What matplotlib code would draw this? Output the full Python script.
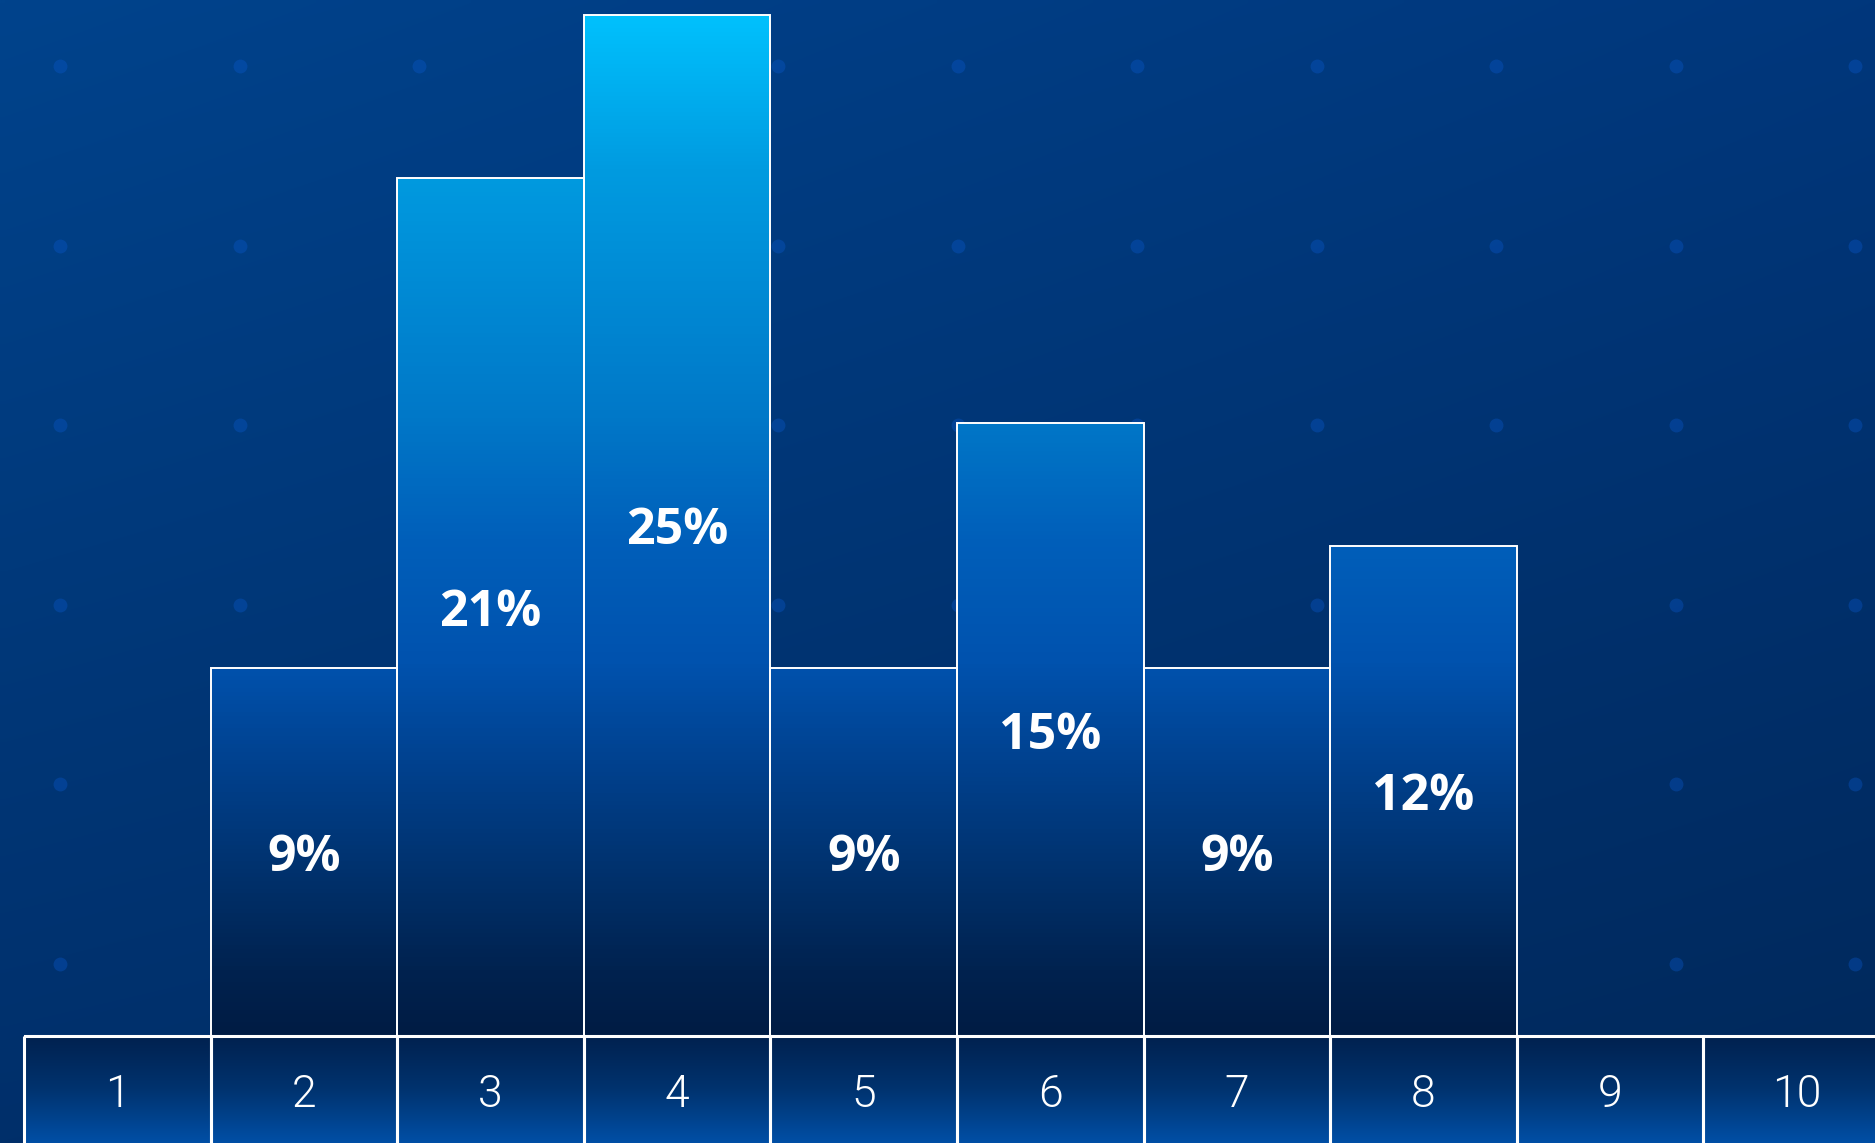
import numpy as np
import matplotlib
matplotlib.use("Agg")
import matplotlib.pyplot as plt
from matplotlib.colors import LinearSegmentedColormap, to_rgb

# bucket labels along the bottom row and the share in each bucket (%)
buckets = ["1", "2", "3", "4", "5", "6", "7", "8", "9", "10"]
shares = [0, 9, 21, 25, 9, 15, 9, 12, 0, 0]
share_labels = ["", "9%", "21%", "25%", "9%", "15%", "9%", "12%", "", ""]

W, H = 1875, 1143
fig = plt.figure(figsize=(W / 100, H / 100), dpi=100)

# ---- background: diagonal navy gradient + dot grid ----
bg = fig.add_axes([0, 0, 1, 1])
bg.set_xlim(0, W)
bg.set_ylim(H, 0)
bg.axis("off")

tl, tr = np.array(to_rgb("#00438c")), np.array(to_rgb("#00377c"))
bl, br = np.array(to_rgb("#002f6a")), np.array(to_rgb("#00285a"))
u = np.linspace(0, 1, 200)[None, :, None]
v = np.linspace(0, 1, 200)[:, None, None]
img = (1 - u) * (1 - v) * tl + u * (1 - v) * tr + (1 - u) * v * bl + u * v * br
bg.imshow(img, extent=(0, W, H, 0), aspect="auto", interpolation="bilinear", zorder=0)

gx, gy = np.meshgrid(60 + 179.5 * np.arange(11), 66 + 179.5 * np.arange(6))
bg.scatter(gx.ravel(), gy.ravel(), s=100, color="#0a5ad0", alpha=0.35, lw=0, zorder=1)

# ---- chart axes ----
ax = fig.add_axes([0, 0, 1, 1])
ax.patch.set_alpha(0)
step = 186.6          # pixels per bucket
per_pct = 40.86       # pixels per percent
x0 = 0.5 - 24 / step
ax.set_xlim(x0, x0 + W / step)
y0 = -107 / per_pct
ax.set_ylim(y0, y0 + H / per_pct)
ax.axis("off")

x = np.arange(1, len(buckets) + 1)

bar_cmap = LinearSegmentedColormap.from_list("bars", [
    (0.00, "#001c44"), (0.06, "#00224f"), (0.14, "#002f68"), (0.26, "#00418e"),
    (0.36, "#0052ae"), (0.48, "#005fba"), (0.60, "#0078c8"), (0.84, "#009be0"),
    (1.00, "#00c4ff")])
cell_cmap = LinearSegmentedColormap.from_list("cells", ["#004fa6", "#00336f", "#00214f"])

ytop = ax.get_ylim()[1]
grad = np.linspace(0, 1, 256)[:, None]

bars = ax.bar(x, shares, width=1.0, color="none", edgecolor="white", linewidth=1.4, zorder=4)
for b, val in zip(bars, shares):
    if val <= 0:
        continue
    im = ax.imshow(grad, cmap=bar_cmap, origin="lower", aspect="auto",
                   extent=(b.get_x(), b.get_x() + b.get_width(), 0, 25.3),
                   interpolation="bilinear", zorder=3)
    im.set_clip_path(b)

cells = ax.bar(x, y0 - 1, width=1.0, bottom=0, color="none", edgecolor="white",
               linewidth=2.2, zorder=6)
for c in cells:
    im = ax.imshow(grad, cmap=cell_cmap, origin="lower", aspect="auto",
                   extent=(c.get_x(), c.get_x() + c.get_width(), y0, 0),
                   interpolation="bilinear", zorder=5)
    im.set_clip_path(c)

for xi, lab in zip(x, buckets):
    ax.text(xi, -1.45, lab, ha="center", va="center", color="white",
            fontsize=32, family="Roboto", fontweight=300, zorder=7)

for xi, val, lab in zip(x, shares, share_labels):
    if lab:
        ax.text(xi, val / 2, lab, ha="center", va="center_baseline", color="white",
                fontsize=36, family="Open Sans", fontweight="bold", zorder=7)

ax.set_ylim(y0, ytop)
fig.savefig("out.png", dpi=100)
